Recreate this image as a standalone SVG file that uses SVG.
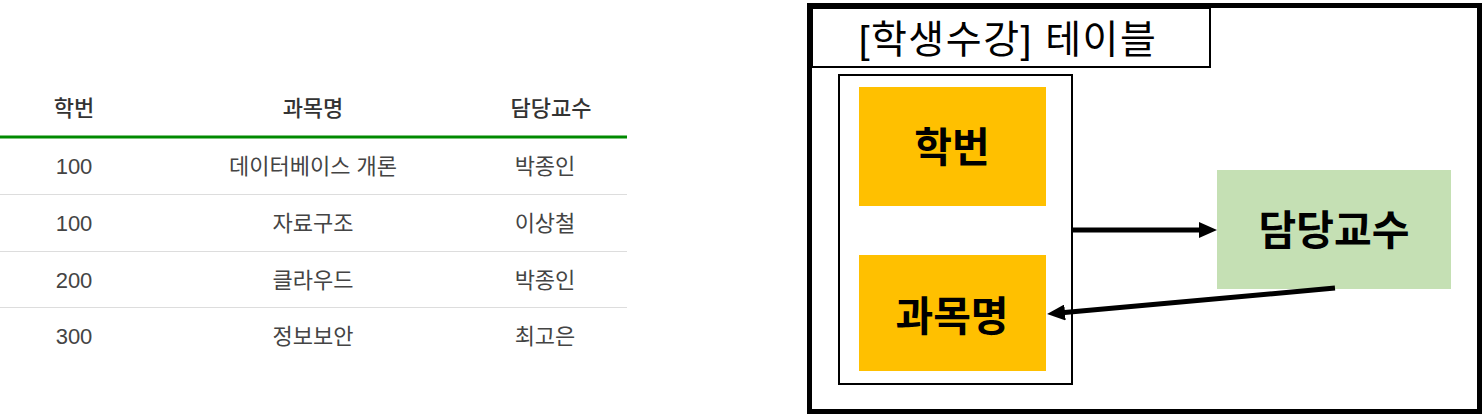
<svg xmlns="http://www.w3.org/2000/svg" width="1484" height="417" viewBox="0 0 1484 417">
<style>
text{font-family:"Liberation Sans","Noto Sans CJK KR",sans-serif;}
.th{font-size:22px;font-weight:500;fill:#333;text-anchor:middle;}
.td{font-size:22px;fill:#444;text-anchor:middle;}
.sep{stroke:#dddddd;stroke-width:1;}
.key{fill:#FFC000;}
.lbl{font-family:"Noto Sans CJK KR",sans-serif;font-size:41px;font-weight:bold;fill:#000;text-anchor:middle;}
.conn{stroke:#000;stroke-width:5;fill:none;}
</style>
<defs>
<marker id="ah" markerWidth="18" markerHeight="16" refX="6" refY="8" orient="auto" markerUnits="userSpaceOnUse">
<path d="M0,0 L18,8 L0,16 z" fill="#000"/>
</marker>
</defs>
<rect width="1484" height="417" fill="#fff"/>
<g id="table">
<text class="th" x="74" y="116">학번</text>
<text class="th" x="313" y="116">과목명</text>
<text class="th" x="551" y="116">담당교수</text>
<line x1="0" y1="137" x2="627" y2="137" stroke="#008a00" stroke-width="3"/>
<text class="td" x="74" y="174">100</text>
<text class="td" x="313" y="174">데이터베이스 개론</text>
<text class="td" x="545" y="174">박종인</text>
<line class="sep" x1="0" y1="194.5" x2="627" y2="194.5"/>
<text class="td" x="74" y="231">100</text>
<text class="td" x="313" y="231">자료구조</text>
<text class="td" x="545" y="231">이상철</text>
<line class="sep" x1="0" y1="251.5" x2="627" y2="251.5"/>
<text class="td" x="74" y="288">200</text>
<text class="td" x="313" y="288">클라우드</text>
<text class="td" x="545" y="288">박종인</text>
<line class="sep" x1="0" y1="307.5" x2="627" y2="307.5"/>
<text class="td" x="74" y="344">300</text>
<text class="td" x="313" y="344">정보보안</text>
<text class="td" x="545" y="344">최고은</text>
</g>
<g id="frame">
<rect x="809.5" y="5.5" width="670" height="406" fill="none" stroke="#000" stroke-width="5"/>
</g>
<g id="title">
<rect x="812" y="8" width="398" height="59" fill="#fff" stroke="#000" stroke-width="2"/>
<text x="1008" y="52.5" font-family="Noto Sans CJK KR, sans-serif" font-size="39" letter-spacing="1.5" fill="#000" text-anchor="middle">[학생수강] 테이블</text>
</g>
<g id="composite-key">
<rect x="839" y="75" width="233" height="309" fill="none" stroke="#000" stroke-width="2"/>
</g>
<g id="node-hakbeon">
<rect class="key" x="859" y="87" width="187" height="119"/>
<text class="lbl" x="952" y="162">학번</text>
</g>
<g id="node-gwamok">
<rect class="key" x="859" y="255" width="187" height="116"/>
<text class="lbl" x="952" y="331">과목명</text>
</g>
<g id="node-professor">
<rect x="1217" y="170" width="234" height="119" fill="#C5E0B4"/>
<text class="lbl" x="1334" y="245">담당교수</text>
</g>
<g id="connectors">
<line class="conn" x1="1073" y1="230" x2="1205" y2="230" marker-end="url(#ah)"/>
<line class="conn" x1="1335" y1="288" x2="1059" y2="313" marker-end="url(#ah)"/>
</g>
</svg>
